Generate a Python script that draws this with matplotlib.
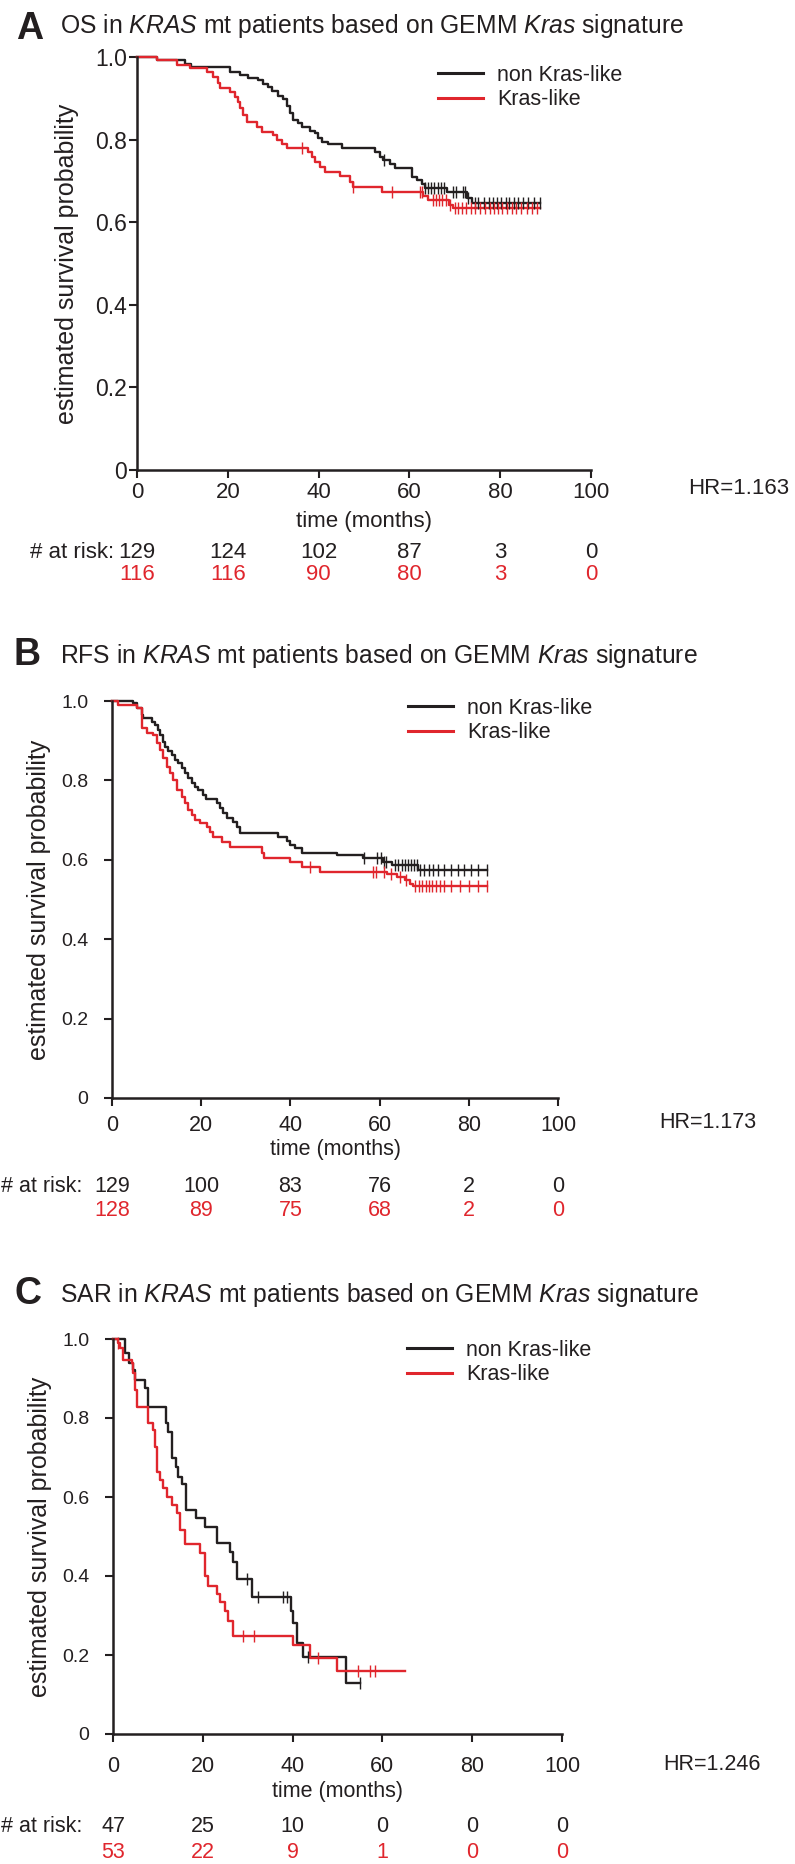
import numpy as np
import matplotlib
matplotlib.use('Agg')
import matplotlib.pyplot as plt
import matplotlib.transforms as mtransforms

plt.rcParams['font.family'] = ['Liberation Sans', 'DejaVu Sans']
plt.rcParams['mathtext.fontset'] = 'custom'
plt.rcParams['mathtext.rm'] = 'Liberation Sans'
plt.rcParams['mathtext.it'] = 'Liberation Sans:italic'
plt.rcParams['mathtext.bf'] = 'Liberation Sans:bold'

W, H = 795, 1864
BLACK = '#231f20'
RED = '#e0262d'

# --- A: OS ---
a_black_t = [0, 4.4, 10.6, 12, 20.5, 22.7, 24.5, 26.7, 27.8, 28.9, 29.7, 31.0, 32.2, 33.0, 33.7, 34.4,
             35.5, 36.3, 38.1, 39.2, 39.9, 40.7, 42.1, 45.1, 52.4, 53.5, 54.2, 55.7, 56.8, 60.6, 61.6,
             62.7, 63.4, 68.2, 72.6, 73.8, 88.8]
a_black_s = [1.0, 0.992, 0.984, 0.976, 0.964, 0.956, 0.950, 0.944, 0.935, 0.927, 0.918, 0.906, 0.898,
             0.881, 0.864, 0.847, 0.840, 0.831, 0.821, 0.816, 0.804, 0.795, 0.789, 0.779, 0.770, 0.758,
             0.751, 0.741, 0.731, 0.709, 0.702, 0.692, 0.683, 0.673, 0.658, 0.646, 0.646]
a_black_cens = [54.5, 63.5, 64.2, 64.8, 65.5, 66.2, 67.0, 67.6, 69.5, 70.2, 71.8, 72.3, 73.0, 74.5, 75.2,
                76.5, 77.5, 78.5, 79.4, 80.2, 81.3, 82.0, 83.0, 84.0, 85.0, 86.2, 87.5, 88.8]
a_red_t = [0, 4.4, 8.8, 11.7, 15.4, 16.8, 17.9, 18.3, 20.5, 21.6, 22.3, 22.7, 23.4, 24.2, 26.4, 27.5,
           30.0, 30.8, 31.9, 33.0, 37.7, 38.5, 39.2, 40.3, 41.4, 44.7, 46.9, 47.6, 54.0, 63.0, 64.0,
           68.8, 69.6, 88.8]
a_red_s = [1.0, 0.992, 0.98, 0.973, 0.964, 0.952, 0.936, 0.924, 0.916, 0.904, 0.892, 0.876, 0.86, 0.843,
           0.831, 0.819, 0.811, 0.799, 0.789, 0.779, 0.770, 0.758, 0.746, 0.734, 0.722, 0.712, 0.697,
           0.685, 0.673, 0.663, 0.654, 0.642, 0.634, 0.634]
a_red_cens = [36.3, 47.6, 56.2, 62.3, 62.8, 65.2, 65.8, 66.5, 67.2, 68.0, 69.0, 70.0, 70.8, 71.6, 72.5,
              73.5, 74.5, 75.6, 76.6, 77.8, 78.6, 79.5, 80.5, 81.5, 82.5, 83.5, 84.6, 85.8, 87.0, 88.0]
a_risk_black = [129, 124, 102, 87, 3, 0]
a_risk_red = [116, 116, 90, 80, 3, 0]

# --- B: RFS ---
b_black_t = [0, 4.7, 5.6, 6.7, 7.0, 8.9, 9.6, 10.3, 10.8, 11.5, 11.9, 12.6, 13.4, 14.1, 14.8, 15.7,
             16.4, 17.0, 17.9, 18.6, 19.3, 20.4, 21.0, 23.5, 24.2, 24.9, 25.8, 27.1, 28.0, 28.7, 37.2,
             39.2, 39.9, 41.0, 42.6, 50.4, 56.3, 60.8, 62.8, 68.6, 84.1]
b_black_s = [1.0, 0.995, 0.982, 0.965, 0.957, 0.947, 0.940, 0.927, 0.914, 0.897, 0.884, 0.874, 0.864,
             0.851, 0.844, 0.831, 0.819, 0.806, 0.793, 0.784, 0.776, 0.763, 0.753, 0.743, 0.730, 0.718,
             0.705, 0.695, 0.683, 0.667, 0.657, 0.647, 0.637, 0.630, 0.617, 0.612, 0.604, 0.594, 0.587,
             0.574, 0.574]
b_black_cens = [56.6, 59.5, 60.3, 60.9, 61.5, 63.5, 64.2, 65.0, 65.6, 66.3, 67.0, 67.7, 68.4, 69.0,
                70.0, 71.0, 72.0, 73.0, 74.5, 76.0, 77.5, 79.0, 80.5, 82.0, 84.0]
b_red_t = [0, 1.3, 5.6, 6.7, 7.8, 9.2, 10.1, 10.8, 11.5, 12.3, 13.0, 13.7, 14.6, 15.7, 16.4, 17.0, 17.9,
           18.6, 19.7, 21.3, 22.0, 22.6, 24.7, 26.5, 33.6, 34.0, 40.0, 42.6, 46.6, 61.6, 63.9, 65.7,
           66.8, 67.5, 84.1]
b_red_s = [1.0, 0.990, 0.982, 0.932, 0.919, 0.914, 0.894, 0.877, 0.856, 0.834, 0.819, 0.801, 0.776,
           0.758, 0.743, 0.725, 0.713, 0.700, 0.693, 0.683, 0.670, 0.657, 0.645, 0.632, 0.617, 0.604,
           0.594, 0.582, 0.569, 0.565, 0.557, 0.549, 0.540, 0.534, 0.534]
b_red_cens = [44.4, 58.5, 59.2, 61.0, 62.5, 64.5, 66.0, 68.0, 68.8, 69.5, 70.3, 71.0, 71.8, 72.6, 73.5,
              74.4, 76.0, 78.0, 80.0, 82.0, 84.0]
b_risk_black = [129, 100, 83, 76, 2, 0]
b_risk_red = [128, 89, 75, 68, 2, 0]

# --- C: SAR ---
c_black_t = [0, 2.7, 3.6, 4.5, 4.9, 7.1, 7.9, 11.7, 12.3, 13.1, 14.0, 14.5, 15.3, 16.3, 18.5, 20.5,
             23.1, 26.1, 26.7, 27.7, 30.9, 39.6, 40.2, 40.9, 42.4, 51.9, 55.0]
c_black_s = [1.0, 0.964, 0.938, 0.922, 0.896, 0.875, 0.829, 0.787, 0.765, 0.698, 0.677, 0.651, 0.633,
             0.567, 0.546, 0.525, 0.483, 0.462, 0.436, 0.393, 0.346, 0.311, 0.28, 0.23, 0.196, 0.130,
             0.130]
c_black_cens = [29.8, 32.4, 37.9, 38.7, 43.5, 55.0]
c_red_t = [0, 1.2, 1.6, 2.3, 4.2, 4.5, 4.9, 5.3, 7.9, 8.8, 9.4, 9.7, 10.5, 11.2, 12.0, 13.1, 14.2, 14.9,
           16.0, 19.4, 20.5, 21.2, 23.1, 23.8, 24.9, 25.7, 26.8, 40.2, 43.9, 49.8, 65.0]
c_red_s = [1.0, 0.99, 0.977, 0.947, 0.938, 0.913, 0.871, 0.829, 0.787, 0.770, 0.727, 0.664, 0.643,
           0.622, 0.601, 0.580, 0.559, 0.517, 0.480, 0.459, 0.400, 0.375, 0.354, 0.333, 0.312, 0.287,
           0.248, 0.226, 0.192, 0.160, 0.160]
c_red_cens = [1.2, 29.0, 31.4, 45.7, 54.6, 57.2, 58.4]
c_risk_black = [47, 25, 10, 0, 0, 0]
c_risk_red = [53, 22, 9, 1, 0, 0]

risk_times = [0, 20, 40, 60, 80, 100]
hr_labels = ['HR=1.163', 'HR=1.173', 'HR=1.246']
letters = ['A', 'B', 'C']
titles = [r'OS in $\mathit{KRAS}$ mt patients based on GEMM $\mathit{Kras}$ signature',
          r'RFS in $\mathit{KRAS}$ mt patients based on GEMM $\mathit{Kras}$ signature',
          r'SAR in $\mathit{KRAS}$ mt patients based on GEMM $\mathit{Kras}$ signature']
series_names = ['non Kras-like', 'Kras-like']

fig = plt.figure(figsize=(W / 100, H / 100), dpi=100)
px = mtransforms.Affine2D().scale(1 / W, -1 / H).translate(0, 1) + fig.transFigure


def step_at(t, s, tc):
    idx = np.searchsorted(t, tc, side='right') - 1
    return np.asarray(s)[idx]


# layout in pixels: axes box (left, right, top, bottom) and text positions
layout = [
    dict(box=(137, 591, 57, 470), letter=(16, 39), title=(60, 33), ylab_x=67, yt=16.5, ypad=1,
         xt=16, xpad=3, xlab_y=522, rows=(552, 575), risk_x=114, hr=(688, 488), fs=16,
         leg=(438, 65)),
    dict(box=(112, 558, 701, 1098), letter=(14, 665), title=(60, 663), ylab_x=39, yt=14, ypad=11,
         xt=15.5, xpad=6, xlab_y=1150, rows=(1186, 1210), risk_x=82, hr=(659, 1123), fs=15.5,
         leg=(408, 698)),
    dict(box=(113, 562, 1339, 1734), letter=(14, 1304), title=(60, 1302), ylab_x=40, yt=14, ypad=11,
         xt=15.5, xpad=10, xlab_y=1792, rows=(1827, 1852), risk_x=82, hr=(663, 1764), fs=15.5,
         leg=(407, 1340)),
]

curves = [
    (a_black_t, a_black_s, a_black_cens, a_red_t, a_red_s, a_red_cens, a_risk_black, a_risk_red),
    (b_black_t, b_black_s, b_black_cens, b_red_t, b_red_s, b_red_cens, b_risk_black, b_risk_red),
    (c_black_t, c_black_s, c_black_cens, c_red_t, c_red_s, c_red_cens, c_risk_black, c_risk_red),
]

for i in range(3):
    L = layout[i]
    bt, bs, bc, rt, rs, rc, rk_b, rk_r = curves[i]
    l, r, t, b = L['box']
    fs = L['fs']
    ax = fig.add_axes([l / W, 1 - b / H, (r - l) / W, (b - t) / H])

    ax.step(bt, bs, where='post', color=BLACK, lw=1.7, clip_on=False, label=series_names[0])
    ax.step(rt, rs, where='post', color=RED, lw=1.7, clip_on=False, label=series_names[1])
    ax.plot(bc, step_at(bt, bs, bc), ls='none', marker='|', ms=9, mew=1.0, color=BLACK, clip_on=False)
    ax.plot(rc, step_at(rt, rs, rc), ls='none', marker='|', ms=9, mew=1.0, color=RED, clip_on=False)

    ax.set_xlim(0, 100)
    ax.set_ylim(0, 1)
    ax.set_xticks(risk_times)
    ax.set_yticks([0, 0.2, 0.4, 0.6, 0.8, 1.0])
    ax.set_yticklabels(['0', '0.2', '0.4', '0.6', '0.8', '1.0'])
    for side in ['top', 'right']:
        ax.spines[side].set_visible(False)
    for side in ['left', 'bottom']:
        ax.spines[side].set_linewidth(1.8)
        ax.spines[side].set_color(BLACK)
    ax.tick_params(axis='y', direction='out', length=6, width=1.5, labelsize=L['yt'], pad=L['ypad'],
                   colors=BLACK)
    ax.tick_params(axis='x', direction='out', length=6, width=1.5, labelsize=L['xt'], pad=L['xpad'],
                   colors=BLACK)

    leg = ax.legend(loc='upper left', bbox_to_anchor=L['leg'], bbox_transform=px, frameon=False,
                    fontsize=15.5, handlelength=2.1, handletextpad=0.65, labelspacing=0.15,
                    borderpad=0, borderaxespad=0)
    for txt in leg.get_texts():
        txt.set_color(BLACK)
    for ln in leg.get_lines():
        ln.set_linewidth(2.2)

    fig.text(L['letter'][0], L['letter'][1], letters[i], transform=px, fontsize=27, weight='bold',
             va='baseline', ha='left', color=BLACK)
    fig.text(L['title'][0], L['title'][1], titles[i], transform=px, fontsize=17.8, va='baseline',
             ha='left', color=BLACK)
    fig.text(L['ylab_x'], (t + b) / 2, 'estimated survival probability', transform=px, fontsize=18,
             rotation=90, ha='center', va='center', color=BLACK)
    fig.text((l + r) / 2, L['xlab_y'], 'time (months)', transform=px, fontsize=fs, ha='center',
             va='center', color=BLACK)
    fig.text(L['hr'][0], L['hr'][1], hr_labels[i], transform=px, fontsize=fs, ha='left',
             va='center', color=BLACK)

    # numbers at risk
    fig.text(L['risk_x'], L['rows'][0], '# at risk:', transform=px, fontsize=fs, ha='right',
             va='center', color=BLACK)
    tr = mtransforms.blended_transform_factory(ax.transData, px)
    for k in range(len(risk_times)):
        ax.text(risk_times[k], L['rows'][0], str(rk_b[k]), transform=tr, fontsize=fs, ha='center',
                va='center', color=BLACK, clip_on=False)
        ax.text(risk_times[k], L['rows'][1], str(rk_r[k]), transform=tr, fontsize=fs, ha='center',
                va='center', color=RED, clip_on=False)

fig.savefig('out.png', dpi=100)
